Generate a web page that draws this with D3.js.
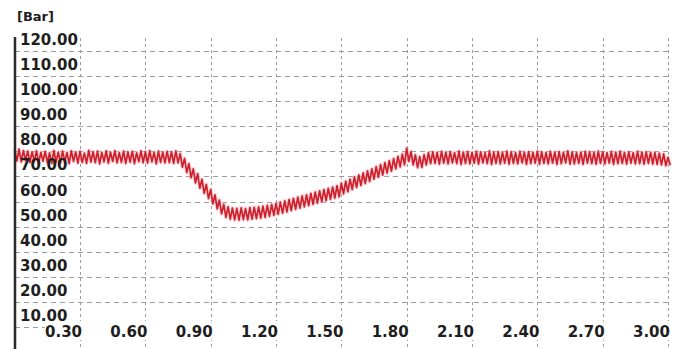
<!DOCTYPE html>
<html>
<head>
<meta charset="utf-8">
<script src="https://cdn.jsdelivr.net/npm/d3@7"></script>
<style>
  html, body { margin: 0; padding: 0; background: #fff; }
  svg { display: block; }
  text { font-family: "DejaVu Sans", sans-serif; font-weight: bold; fill: #1e1e1e; }
</style>
</head>
<body>
<svg id="chart" width="696" height="349"></svg>
<script>
// Pressure trace, sampled every 10 ms from 0 to 3.01 s
const sampleStep = 0.01;
const pressure = [
  80.6, 76.2, 80.9, 75.8, 80.3, 76.4, 80.1, 75.6, 79.8, 75.9,
  80.2, 75.3, 79.6, 76.1, 80.0, 75.5, 79.4, 75.2, 80.3, 75.8,
  79.7, 75.4, 80.1, 75.9, 79.5, 75.1, 80.2, 76.0, 79.8, 75.3,
  80.0, 75.6, 79.3, 75.2, 80.4, 75.7, 79.9, 75.5, 80.1, 75.0,
  79.6, 75.8, 80.2, 75.3, 79.7, 76.0, 80.3, 75.4, 79.5, 75.6,
  80.1, 75.2, 79.8, 75.7, 80.0, 75.1, 79.4, 75.9, 80.2, 75.5,
  79.9, 75.3, 80.3, 75.8, 79.6, 75.0, 80.1, 75.6, 79.7, 75.4,
  80.0, 75.5, 79.8, 75.2, 80.2, 75.4, 79.1, 73.7, 77.2, 71.6,
  75.1, 69.5, 73.0, 67.4, 71.1, 65.3, 68.9, 63.3, 66.8, 61.2,
  64.8, 59.1, 62.7, 57.1, 60.6, 55.1, 58.9, 53.7, 57.9, 53.0,
  57.4, 52.7, 57.3, 52.6, 57.5, 52.8, 57.2, 52.7, 57.6, 53.0,
  57.7, 53.2, 57.9, 53.4, 58.2, 53.7, 58.5, 54.1, 58.9, 54.5,
  59.3, 55.0, 59.8, 55.4, 60.3, 55.9, 60.8, 56.4, 61.3, 56.9,
  61.8, 57.4, 62.3, 57.9, 62.7, 58.4, 63.3, 58.9, 63.8, 59.4,
  64.3, 59.9, 64.8, 60.4, 65.3, 60.9, 65.8, 61.4, 66.3, 61.9,
  67.3, 63.1, 68.1, 63.9, 68.9, 64.8, 69.8, 65.6, 70.6, 66.4,
  71.4, 67.2, 72.2, 68.0, 73.0, 68.9, 73.9, 69.7, 74.7, 70.5,
  75.5, 71.3, 76.3, 72.1, 77.1, 73.0, 78.0, 73.8, 78.9, 74.6,
  81.3, 76.0, 79.9, 74.6, 78.6, 73.5, 77.9, 73.6, 78.7, 74.6,
  79.5, 75.1, 79.8, 75.2, 79.6, 74.9, 80.0, 75.3, 79.7, 75.0,
  79.9, 75.4, 79.5, 75.1, 80.1, 74.8, 79.7, 75.2, 79.9, 75.0,
  79.6, 75.3, 80.0, 74.9, 79.8, 75.4, 79.5, 75.1, 80.2, 74.8,
  79.7, 75.2, 79.9, 75.0, 79.6, 75.3, 80.1, 74.9, 79.8, 75.2,
  79.5, 75.0, 80.0, 75.4, 79.7, 74.8, 79.9, 75.1, 79.6, 75.3,
  80.1, 74.9, 79.8, 75.2, 79.5, 75.0, 80.0, 75.3, 79.7, 74.8,
  79.9, 75.1, 79.6, 75.4, 80.2, 74.9, 79.8, 75.0, 79.5, 75.2,
  79.7, 74.8, 80.0, 75.3, 79.9, 75.1, 79.6, 74.9, 80.1, 75.2,
  79.8, 75.0, 79.5, 75.3, 79.9, 74.8, 79.7, 75.1, 80.0, 75.2,
  79.6, 74.9, 79.8, 75.3, 79.5, 75.0, 80.0, 75.1, 79.7, 74.9,
  79.8, 75.2, 79.6, 74.9, 79.5, 74.8, 79.3, 74.6, 79.0, 74.3,
  77.6, 74.5
];

// Axis ticks
const yTicks = [10, 20, 30, 40, 50, 60, 70, 80, 90, 100, 110, 120];
const xTicks = [0.30, 0.60, 0.90, 1.20, 1.50, 1.80, 2.10, 2.40, 2.70, 3.00];
const unitLabel = "[Bar]";

const svg = d3.select("#chart");
const fmt = d3.format(".2f");

const x = d3.scaleLinear().domain([0, 3.0]).range([14.7, 668]);
const y = d3.scaleLinear().domain([10, 120]).range([327, 51]);

const gridColor = "#9c9c9c";

// Vertical grid lines (run through the label band to the bottom edge)
svg.append("g").selectAll("line").data(xTicks).join("line")
  .attr("x1", d => Math.round(x(d)) + 0.5).attr("x2", d => Math.round(x(d)) + 0.5)
  .attr("y1", 38).attr("y2", 349)
  .attr("stroke", gridColor).attr("stroke-width", 1)
  .attr("stroke-dasharray", "3,3");

// Horizontal grid lines
svg.append("g").selectAll("line").data(yTicks).join("line")
  .attr("x1", 15)
  .attr("x2", d => d === 10 ? 45 : x(3.0))
  .attr("y1", d => Math.round(y(d)) + 0.5).attr("y2", d => Math.round(y(d)) + 0.5)
  .attr("stroke", gridColor).attr("stroke-width", 1)
  .attr("stroke-dasharray", "5,4");

// Pressure trace
const line = d3.line()
  .x((d, i) => x(i * sampleStep))
  .y(d => y(d));

svg.append("path").datum(pressure)
  .attr("d", line)
  .attr("fill", "none")
  .attr("stroke", "#f3b4ba")
  .attr("stroke-width", 4)
  .attr("stroke-opacity", 0.5)
  .attr("stroke-linejoin", "round");

svg.append("path").datum(pressure)
  .attr("d", line)
  .attr("fill", "none")
  .attr("stroke", "#d1202d")
  .attr("stroke-width", 1.7)
  .attr("stroke-linejoin", "round");

// Y axis labels sit just above their grid line
svg.append("g").selectAll("text").data(yTicks).join("text")
  .attr("x", 20)
  .attr("y", d => y(d) - 6)
  .attr("font-size", 15)
  .text(d => fmt(d));

// X axis labels on white boxes, right edge at their grid line
const xl = svg.append("g").selectAll("g").data(xTicks).join("g")
  .attr("transform", d => `translate(${x(d) + 2},0)`);
xl.append("rect")
  .attr("x", -37).attr("y", 321).attr("width", 36).attr("height", 19)
  .attr("fill", "#fff");
xl.append("text")
  .attr("x", 0).attr("y", 337)
  .attr("text-anchor", "end")
  .attr("font-size", 15)
  .text(d => fmt(d));

// Y axis line
svg.append("line")
  .attr("x1", 15).attr("x2", 15)
  .attr("y1", 37).attr("y2", 349)
  .attr("stroke", "#2a2a2a").attr("stroke-width", 2.5);

// Unit label
svg.append("text")
  .attr("x", 17).attr("y", 21)
  .attr("font-size", 13)
  .text(unitLabel);
</script>
</body>
</html>
